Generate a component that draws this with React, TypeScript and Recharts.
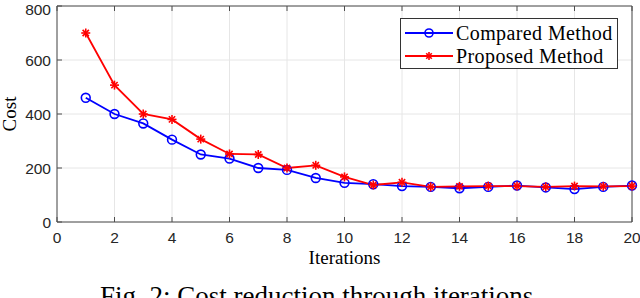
import { LineChart, Line, XAxis, YAxis, CartesianGrid, Legend } from "recharts";

const iterations = [1, 2, 3, 4, 5, 6, 7, 8, 9, 10, 11, 12, 13, 14, 15, 16, 17, 18, 19, 20];
const comparedCost = [460, 400, 365, 305, 250, 235, 200, 193, 163, 145, 140, 133, 130, 125, 130, 135, 128, 122, 130, 135];
const proposedCost = [700, 507, 400, 380, 307, 252, 250, 200, 210, 167, 137, 147, 130, 132, 133, 133, 130, 133, 132, 133];
const xTicks = [0, 2, 4, 6, 8, 10, 12, 14, 16, 18, 20];
const yTicks = [0, 200, 400, 600, 800];

const data = iterations.map((it, i) => ({
  it,
  compared: comparedCost[i],
  proposed: proposedCost[i],
}));

const BLUE = "#0000ff";
const RED = "#ff0000";
const AXIS = "#4d4d4d";
const sans = "Liberation Sans, Arial, sans-serif";
const serif = "Liberation Serif, Times New Roman, serif";

function XTick({ x, y, payload }: any) {
  return (
    <text x={x} y={y + 11} textAnchor="middle" fontSize={15.5} fontFamily={sans} fill="#262626">
      {payload.value}
    </text>
  );
}

function YTick({ x, y, payload }: any) {
  return (
    <text x={x} y={y + 5.5} textAnchor="end" fontSize={15.5} fontFamily={sans} fill="#262626">
      {payload.value}
    </text>
  );
}

function Star({ cx, cy, size = 4.5 }: { cx?: number; cy?: number; size?: number }) {
  if (cx == null || cy == null) return null;
  const d = size * 0.7;
  return (
    <g stroke={RED} strokeWidth={1.6}>
      <line x1={cx - size} y1={cy} x2={cx + size} y2={cy} />
      <line x1={cx} y1={cy - size} x2={cx} y2={cy + size} />
      <line x1={cx - d} y1={cy - d} x2={cx + d} y2={cy + d} />
      <line x1={cx - d} y1={cy + d} x2={cx + d} y2={cy - d} />
    </g>
  );
}

function LegendBox() {
  const rows = [
    { label: "Compared Method", color: BLUE, star: false },
    { label: "Proposed Method", color: RED, star: true },
  ];
  return (
    <div
      style={{
        width: 218,
        height: 51,
        background: "#fff",
        border: "1px solid #333",
        fontFamily: serif,
        fontSize: 20,
        color: "#000",
        boxSizing: "border-box",
        paddingTop: 2,
      }}
    >
      {rows.map((r) => (
        <div key={r.label} style={{ display: "flex", alignItems: "center", height: 23 }}>
          <svg width={55} height={20} style={{ flex: "none" }}>
            <line x1={4} y1={10} x2={52} y2={10} stroke={r.color} strokeWidth={1.8} />
            {r.star ? (
              <Star cx={28} cy={10} size={4} />
            ) : (
              <circle cx={28} cy={10} r={4} stroke={r.color} strokeWidth={1.6} fill="none" />
            )}
          </svg>
          <span style={{ lineHeight: "20px", letterSpacing: 0.4 }}>{r.label}</span>
        </div>
      ))}
    </div>
  );
}

export default function App() {
  return (
    <div style={{ position: "absolute", left: 0, top: 0, width: 640, height: 298, overflow: "hidden", background: "#fff" }}>
      <LineChart width={640} height={298} data={data} margin={{ top: 5, right: 7, bottom: 46, left: 0 }}>
        <CartesianGrid stroke="#e6e6e6" strokeWidth={1} />
        <XAxis
          dataKey="it"
          type="number"
          domain={[0, 20]}
          ticks={xTicks}
          height={30}
          stroke={AXIS}
          tickSize={-5}
          tickMargin={15}
          tick={<XTick />}
          label={{ value: "Iterations", position: "insideBottom", offset: -12, style: { fontFamily: serif, fontSize: 19, fill: "#000" } }}
        />
        <XAxis
          xAxisId="top"
          orientation="top"
          dataKey="it"
          type="number"
          domain={[0, 20]}
          ticks={xTicks}
          height={1}
          stroke={AXIS}
          tickSize={-5}
          tick={() => <g />}
        />
        <YAxis
          domain={[0, 800]}
          ticks={yTicks}
          width={57}
          stroke={AXIS}
          tickSize={-5}
          tickMargin={11}
          tick={<YTick />}
          label={{ value: "Cost", angle: -90, position: "insideLeft", offset: 9, style: { fontFamily: serif, fontSize: 19, fill: "#000", textAnchor: "middle" } }}
        />
        <YAxis
          yAxisId="right"
          orientation="right"
          domain={[0, 800]}
          ticks={yTicks}
          width={1}
          stroke={AXIS}
          tickSize={-5}
          tick={() => <g />}
        />
        <Legend
          layout="vertical"
          align="center"
          verticalAlign="middle"
          wrapperStyle={{ left: 400, top: 18, width: 218 }}
          content={() => <LegendBox />}
        />
        <Line
          dataKey="compared"
          name="Compared Method"
          stroke={BLUE}
          strokeWidth={1.8}
          dot={{ r: 4.4, stroke: BLUE, strokeWidth: 1.6, fill: "none" }}
          activeDot={false}
          isAnimationActive={false}
        />
        <Line
          dataKey="proposed"
          name="Proposed Method"
          stroke={RED}
          strokeWidth={1.8}
          dot={(p: any) => <Star key={p.index} cx={p.cx} cy={p.cy} />}
          activeDot={false}
          isAnimationActive={false}
        />
      </LineChart>
      <div
        style={{
          position: "absolute",
          left: 0,
          top: 282.5,
          width: 640,
          textAlign: "center",
          fontFamily: serif,
          fontSize: 27,
          lineHeight: "27px",
          color: "#000",
          whiteSpace: "nowrap",
        }}
      >
        Fig. 2: Cost reduction through iterations.
      </div>
    </div>
  );
}
